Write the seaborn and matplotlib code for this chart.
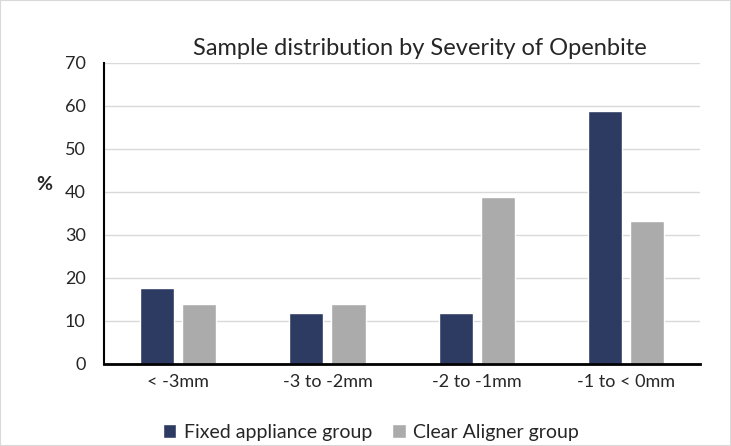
import pandas as pd
import seaborn as sns
import matplotlib.pyplot as plt
from matplotlib.patches import Rectangle

# values (%)
categories = ["< -3mm", "-3 to -2mm", "-2 to -1mm", "-1 to < 0mm"]
groups = ["Fixed appliance group", "Clear Aligner group"]
fixed_vals = [17.6, 11.8, 11.8, 58.8]
aligner_vals = [13.9, 13.9, 38.9, 33.3]
bar_colors = ["#2D3A62", "#ABABAB"]

df = pd.DataFrame({
    "severity": categories * 2,
    "group": [groups[0]] * 4 + [groups[1]] * 4,
    "pct": fixed_vals + aligner_vals,
})

sns.set_style("white")
plt.rcParams["font.family"] = ["Lato", "DejaVu Sans"]

fig = plt.figure(figsize=(7.31, 4.46), dpi=100)
ax = fig.add_axes([0.142, 0.184, 0.816, 0.675])

sns.barplot(data=df, x="severity", y="pct", hue="group", order=categories,
            hue_order=groups, palette=bar_colors, width=0.564, gap=0.19,
            saturation=1, ax=ax)

ax.set_ylim(0, 70)
ax.set_xlim(-0.5, 3.5)
ax.set_yticks(range(0, 71, 10))
ax.yaxis.grid(True, color="#D9D9D9", linewidth=1)
ax.set_axisbelow(True)
for s in ["top", "right"]:
    ax.spines[s].set_visible(False)
ax.spines["left"].set_color("black")
ax.spines["left"].set_linewidth(1.5)
ax.spines["bottom"].set_color("black")
ax.spines["bottom"].set_linewidth(2)
ax.tick_params(axis="x", length=0, labelsize=13, pad=7)
ax.tick_params(axis="y", length=0, labelsize=13, pad=13)
ax.set_xlabel("")
ax.set_ylabel("%", rotation=0, fontsize=14, fontweight="bold", va="center")
ax.yaxis.set_label_coords(-0.1, 0.595)
ax.set_title("Sample distribution by Severity of Openbite", fontsize=17,
             pad=6, x=0.53)

ax.legend(loc="upper center", bbox_to_anchor=(0.448, -0.14), ncol=2,
          frameon=False, fontsize=14, handlelength=0.7, handleheight=0.7,
          handletextpad=0.4, columnspacing=1.0)

# light border around the whole chart
fig.patches.append(Rectangle((0, 0), 1, 1, transform=fig.transFigure,
                             fill=False, edgecolor="#D9D9D9", linewidth=1.5))

fig.savefig("out.png", dpi=100)
